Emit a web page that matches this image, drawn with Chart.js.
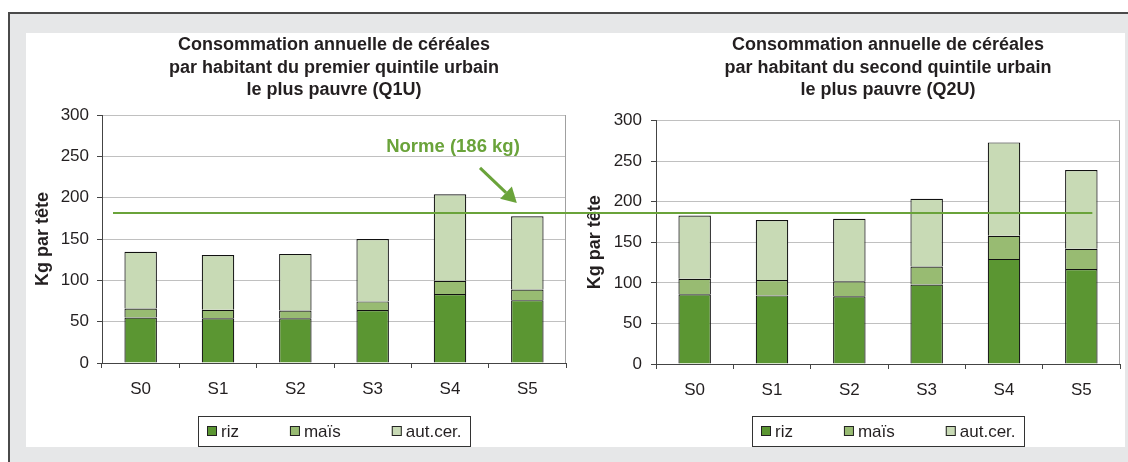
<!DOCTYPE html>
<html><head><meta charset="utf-8">
<script src="https://cdn.jsdelivr.net/npm/chart.js@4/dist/chart.umd.min.js"></script>
<style>
html,body{margin:0;padding:0;background:#fff;width:1128px;height:462px;overflow:hidden;}
#frame{position:absolute;left:8px;top:12px;width:1130px;height:460px;background:#e6e7e8;border-left:2px solid #4a4a4a;border-top:2px solid #4a4a4a;}
#panel{position:absolute;left:26px;top:33px;width:1099px;height:414px;background:#fff;}
#c1,#c2{position:absolute;left:0;top:0;}
#c2{z-index:2;}
</style></head><body>
<div id="frame"></div>
<div id="panel"><canvas id="c1" width="552" height="414"></canvas><canvas id="c2" width="1099" height="414"></canvas></div>
<script>
// ---- data ----
const categories = ['S0', 'S1', 'S2', 'S3', 'S4', 'S5'];
const seriesNames = ['riz', 'maïs', 'aut.cer.'];
const q1Riz  = [55, 54, 54, 64, 83.5, 76];
const q1Mais = [11, 10.5, 9.5, 10.5, 16, 13];
const q1Aut  = [68.5, 66, 68.5, 75.5, 104.5, 88.5];
const q2Riz  = [86, 84.5, 83.5, 98, 129.5, 117];
const q2Mais = [19, 19, 18.5, 22, 28.5, 25];
const q2Aut  = [78, 74, 77, 83.5, 115, 97];
const NORM = 186;
const normLabel = 'Norme (186 kg)';
const title1 = ['Consommation annuelle de céréales', 'par habitant du premier quintile urbain', 'le plus pauvre (Q1U)'];
const title2 = ['Consommation annuelle de céréales', 'par habitant du second quintile urbain', 'le plus pauvre (Q2U)'];
const yTitle = 'Kg par tête';

// ---- style ----
const FONT = '"Liberation Sans", Arial, Helvetica, sans-serif';
Chart.defaults.font.family = FONT;
Chart.defaults.color = '#231f20';
const COLORS = ['#5b9632', '#98bb72', '#c8dab5'];
const GREEN = '#6aa33a';

function makeDatasets(riz, mais, aut) {
  return [riz, mais, aut].map((d, i) => ({
    label: seriesNames[i], data: d, backgroundColor: COLORS[i],
    borderColor: '#111', borderWidth: 1.2, borderSkipped: 'start',
    barPercentage: 0.42, categoryPercentage: 1
  }));
}

const plotBorder = {
  id: 'plotBorder',
  beforeDatasetsDraw(chart) {
    const {ctx, chartArea: a} = chart;
    ctx.save(); ctx.strokeStyle = '#a0a0a0'; ctx.lineWidth = 1;
    const x = Math.round(a.right) - 0.5;
    ctx.beginPath(); ctx.moveTo(x, a.top); ctx.lineTo(x, a.bottom); ctx.stroke();
    ctx.restore();
  }
};

const boxLegend = {
  id: 'boxLegend',
  afterDraw(chart) {
    const ctx = chart.ctx; ctx.save();
    ctx.font = '17px ' + FONT;
    const items = chart.data.datasets.map(d => ({t: d.label, c: d.backgroundColor}));
    const sq = 10, gapT = 4, gapI = 51, padL = 9, padR = 8, h = 30;
    let w = padL + padR;
    items.forEach((it, i) => { it.w = ctx.measureText(it.t).width; w += sq + gapT + it.w + (i ? gapI : 0); });
    const a = chart.chartArea;
    const cx = (a.left + a.right) / 2;
    const L = Math.round(cx - w / 2), T = chart.height - h - 1;
    ctx.strokeStyle = '#333'; ctx.lineWidth = 1;
    ctx.strokeRect(L + 0.5, T + 0.5, Math.round(w), h);
    let x = L + padL; const cy = T + h / 2;
    ctx.textBaseline = 'middle'; ctx.textAlign = 'left';
    items.forEach(it => {
      const sy = Math.round(cy - sq / 2);
      ctx.fillStyle = it.c; ctx.fillRect(x, sy, sq, sq);
      ctx.strokeStyle = '#222'; ctx.strokeRect(x + 0.5, sy + 0.5, sq - 1, sq - 1);
      ctx.fillStyle = '#231f20'; ctx.fillText(it.t, x + sq + gapT, cy + 1);
      x += sq + gapT + it.w + gapI;
    });
    ctx.restore();
  }
};

const normNote = {
  id: 'normNote',
  afterDraw(chart) {
    const {ctx} = chart; const xs = chart.scales.x, ys = chart.scales.y;
    ctx.save();
    ctx.fillStyle = GREEN; ctx.font = 'bold 18.5px ' + FONT;
    ctx.textAlign = 'center'; ctx.textBaseline = 'middle';
    ctx.fillText(normLabel, xs.getPixelForValue(4) + 3, ys.getPixelForValue(262));
    const x0 = xs.getPixelForValue(4) + 30, y0 = ys.getPixelForValue(236);
    const x1 = xs.getPixelForValue(5) - 10.5, y1 = ys.getPixelForValue(193.5);
    const ang = Math.atan2(y1 - y0, x1 - x0), hl = 15, hw = 8.5;
    const bx = x1 - hl * Math.cos(ang), by = y1 - hl * Math.sin(ang);
    ctx.strokeStyle = GREEN; ctx.lineWidth = 3;
    ctx.beginPath(); ctx.moveTo(x0, y0); ctx.lineTo(bx, by); ctx.stroke();
    ctx.beginPath(); ctx.moveTo(x1, y1);
    ctx.lineTo(bx + hw * Math.sin(ang), by - hw * Math.cos(ang));
    ctx.lineTo(bx - hw * Math.sin(ang), by + hw * Math.cos(ang));
    ctx.closePath(); ctx.fill();
    ctx.restore();
  }
};

function baseOptions(cfg) {
  return {
    responsive: false, animation: false, devicePixelRatio: 1,
    layout: {padding: cfg.padding},
    events: [],
    plugins: {
      legend: {display: false}, tooltip: {enabled: false},
      title: {display: true, fullSize: false, text: cfg.title, color: '#231f20',
        font: {size: 18, weight: 'bold', lineHeight: 1.25},
        padding: {top: 1, bottom: cfg.titleBottom}}
    },
    scales: {
      x: {
        stacked: true,
        grid: {display: true, drawOnChartArea: false, drawTicks: true, tickLength: 5, tickColor: '#444', offset: true},
        border: {display: true, color: '#444', width: 1},
        ticks: {font: {size: 17}, color: '#231f20', padding: 11},
        afterFit(s) { s.height = 40; }
      },
      y: {
        stacked: true, min: 0, max: 300,
        grid: {color: '#c0c0c0', lineWidth: 1, drawTicks: true, tickLength: 5, tickColor: '#444'},
        border: {display: true, color: '#444', width: 1},
        ticks: {stepSize: 50, font: {size: 17}, color: '#231f20', padding: cfg.tickPad},
        title: {display: true, text: yTitle, color: '#231f20', font: {size: 18, weight: 'bold'},
          padding: {top: cfg.yTitlePad, bottom: 0}},
        afterFit(s) { s.width = cfg.yWidth; }
      }
    }
  };
}

const leftChart = new Chart(document.getElementById('c1'), {
  type: 'bar',
  data: {labels: categories, datasets: makeDatasets(q1Riz, q1Mais, q1Aut)},
  options: baseOptions({padding: {left: 0, right: 12, top: 0, bottom: 44}, title: title1, titleBottom: 13.5, tickPad: 8, yTitlePad: 6, yWidth: 76}),
  plugins: [plotBorder, boxLegend, normNote]
});

const normLine = {
  id: 'normLine',
  afterDatasetsDraw(chart) {
    const {ctx} = chart;
    const y = chart.scales.y.getPixelForValue(NORM);
    const x0 = leftChart.chartArea.left + 11;
    const x1 = chart.scales.x.getPixelForValue(5) + 11;
    ctx.save(); ctx.strokeStyle = GREEN; ctx.lineWidth = 2;
    ctx.beginPath(); ctx.moveTo(x0, y); ctx.lineTo(x1, y); ctx.stroke();
    ctx.restore();
  }
};

const rightChart = new Chart(document.getElementById('c2'), {
  type: 'bar',
  data: {labels: categories, datasets: makeDatasets(q2Riz, q2Mais, q2Aut)},
  options: baseOptions({padding: {left: 572, right: 5, top: 0, bottom: 43}, title: title2, titleBottom: 19, tickPad: 9, yTitlePad: -13.8, yWidth: 58}),
  plugins: [plotBorder, boxLegend, normLine]
});
</script>
</body></html>
